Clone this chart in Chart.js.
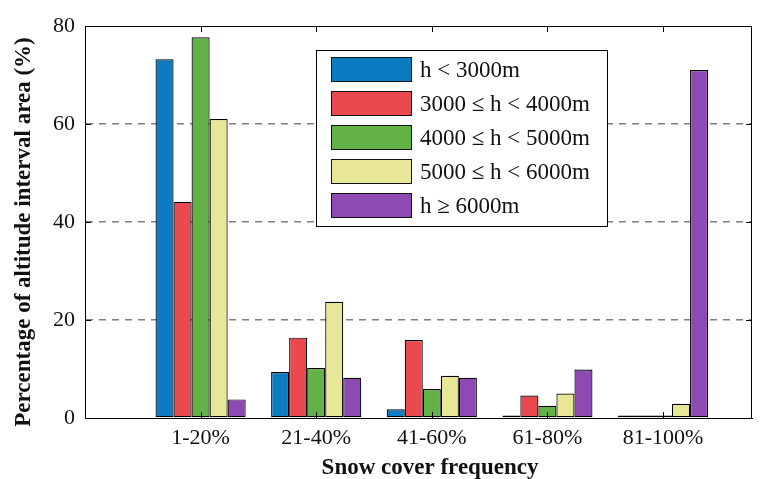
<!DOCTYPE html>
<html>
<head>
<meta charset="utf-8">
<script src="https://cdn.jsdelivr.net/npm/chart.js@4/dist/chart.umd.min.js"></script>
<style>
  body { margin: 0; background: #fff; }
  #wrap { width: 769px; height: 479px; }
</style>
</head>
<body>
<div id="wrap"><canvas id="snow-chart"></canvas></div>
<script>
// categorias (frecuencia de cobertura de nieve)
var categories = ['1-20%', '21-40%', '41-60%', '61-80%', '81-100%'];
var seriesNames = ['h < 3000m', '3000 \u2264 h < 4000m', '4000 \u2264 h < 5000m', '5000 \u2264 h < 6000m', 'h \u2265 6000m'];
var below3000 = [73.2, 9.4, 1.8, 0.5, 0.5];
var from3000 = [44.1, 16.4, 15.9, 4.6, 0.5];
var from4000 = [77.7, 10.2, 5.9, 2.5, 0.5];
var from5000 = [61.0, 23.7, 8.6, 5.0, 2.9];
var above6000 = [3.8, 8.2, 8.2, 9.9, 71.0];
var yTicks = [0, 20, 40, 60, 80];
var xTitle = 'Snow cover frequency';
var yTitle = 'Percentage of altitude interval area (%)';

var colors = ['#0b7cc1', '#ea4a4f', '#63b245', '#e8e697', '#8d4ab3'];
var serif = "'Liberation Serif', 'Times New Roman', serif";

function toPoints(values) {
    return values.map(function (v, i) { return { x: i + 1, y: v }; });
}

var allSeries = [below3000, from3000, from4000, from5000, above6000];
var datasets = allSeries.map(function (values, i) {
    return {
        label: seriesNames[i],
        data: toPoints(values),
        backgroundColor: colors[i],
        borderColor: '#000',
        borderWidth: 1.2,
        borderSkipped: false,
        categoryPercentage: 0.78,
        barPercentage: 1
    };
});

// marco, marcas hacia dentro, titulos y leyenda
var framePlugin = {
    id: 'frame',
    afterDraw: function (chart) {
        var ctx = chart.ctx;
        var a = chart.chartArea;
        var xs = chart.scales.x, ys = chart.scales.y;
        ctx.save();
        ctx.strokeStyle = '#000';
        ctx.lineWidth = 1;
        ctx.strokeRect(a.left + 0.5, a.top + 0.5, a.right - a.left - 1, a.bottom - a.top);
        ctx.beginPath();
        yTicks.forEach(function (t) {
            var y = Math.round(ys.getPixelForValue(t)) + 0.5;
            ctx.moveTo(a.left, y); ctx.lineTo(a.left + 6, y);
            ctx.moveTo(a.right, y); ctx.lineTo(a.right - 6, y);
        });
        categories.forEach(function (c, i) {
            var x = Math.round(xs.getPixelForValue(i + 1)) + 0.5;
            ctx.moveTo(x, a.bottom); ctx.lineTo(x, a.bottom - 6);
            ctx.moveTo(x, a.top); ctx.lineTo(x, a.top + 6);
        });
        ctx.stroke();

        // titulos de ejes
        ctx.fillStyle = '#111';
        ctx.font = 'bold 23px ' + serif;
        ctx.textAlign = 'center';
        ctx.textBaseline = 'alphabetic';
        ctx.fillText(xTitle, 430, 474);
        ctx.save();
        ctx.translate(30, 232);
        ctx.rotate(-Math.PI / 2);
        ctx.fillText(yTitle, 0, 0);
        ctx.restore();

        // leyenda
        var bx = 316.5, by = 50.5, bw = 291, bh = 176;
        ctx.textAlign = 'left';
        ctx.fillStyle = '#fff';
        ctx.fillRect(bx, by, bw, bh);
        ctx.strokeRect(bx, by, bw, bh);
        ctx.font = '23px ' + serif;
        ctx.textBaseline = 'middle';
        chart.data.datasets.forEach(function (ds, i) {
            var cy = 69.5 + i * 34;
            ctx.fillStyle = ds.backgroundColor;
            ctx.fillRect(331.5, cy - 12, 80, 24);
            ctx.strokeStyle = '#111';
            ctx.strokeRect(331.5, cy - 12, 80, 24);
            ctx.fillStyle = '#111';
            ctx.fillText(ds.label, 420, cy + 1);
        });
        ctx.restore();
    }
};

var config = {
    type: 'bar',
    data: { datasets: datasets },
    options: {
        responsive: true,
        maintainAspectRatio: false,
        animation: false,
        layout: { padding: { left: 0, right: 17, top: 26, bottom: 0 } },
        plugins: {
            legend: { display: false },
            tooltip: { enabled: false }
        },
        scales: {
            x: {
                type: 'linear',
                min: 0,
                max: 5.77,
                offset: false,
                afterBuildTicks: function (scale) {
                    scale.ticks = categories.map(function (c, i) { return { value: i + 1 }; });
                },
                afterFit: function (scale) { scale.height = 61; },
                grid: { display: false, drawTicks: false },
                border: { display: true, color: '#000', width: 1 },
                ticks: {
                    padding: 7,
                    autoSkip: false,
                    maxRotation: 0,
                    color: '#111',
                    font: { family: serif, size: 22 },
                    callback: function (v) { return categories[v - 1]; }
                }
            },
            y: {
                min: 0,
                max: 80,
                afterBuildTicks: function (scale) {
                    scale.ticks = yTicks.map(function (v) { return { value: v }; });
                },
                afterFit: function (scale) { scale.width = 85; },
                grid: {
                    drawTicks: false,
                    lineWidth: 1.5,
                    color: function (c) {
                        var v = c.tick ? c.tick.value : 0;
                        return (v === 0 || v === 80) ? 'rgba(0,0,0,0)' : '#7f7f7f';
                    }
                },
                border: { display: true, color: '#000', width: 1, dash: [7, 6] },
                ticks: {
                    padding: 10,
                    color: '#111',
                    font: { family: serif, size: 22 }
                }
            }
        }
    },
    plugins: [framePlugin]
};

new Chart(document.getElementById('snow-chart').getContext('2d'), config);
</script>
</body>
</html>
